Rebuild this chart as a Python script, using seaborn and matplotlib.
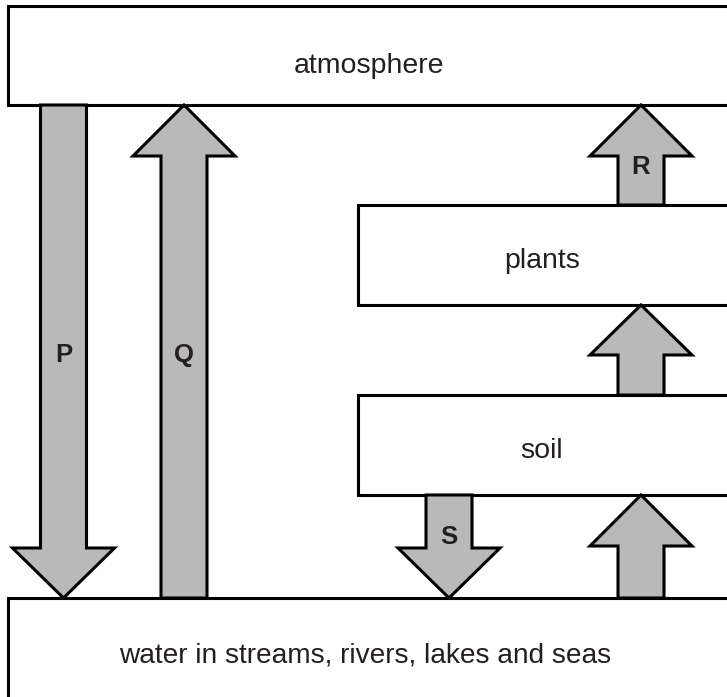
import matplotlib
matplotlib.use("Agg")
import matplotlib.pyplot as plt
from matplotlib.patches import Polygon, Rectangle
import seaborn as sns

sns.set_theme(style="white")
plt.rcParams['font.family'] = ['Liberation Sans', 'DejaVu Sans']

# Diagram content
box_names = ["atmosphere", "plants", "soil", "water in streams, rivers, lakes and seas"]
arrow_labels = ["P", "Q", "R", "", "S", ""]

W, H = 727, 697
fig = plt.figure(figsize=(W / 100, H / 100), dpi=100)
ax = fig.add_axes([0, 0, 1, 1])
ax.set_xlim(0, W)
ax.set_ylim(H, 0)
ax.axis("off")

LW = 2.2
FILL = "#b9b9b9"
TXT = "#231f20"

# boxes: (x0, y0, x1, y1)
boxes = [(8, 6, 760, 105), (358, 205, 760, 305), (358, 395, 760, 495), (8, 598, 760, 760)]
text_x = [369, 542, 542, 365]
text_base = [73, 268, 458, 662]
text_size = [20.5, 20.5, 20.5, 20.2]
for (x0, y0, x1, y1), name, tx, tb, fs in zip(boxes, box_names, text_x, text_base, text_size):
    ax.add_patch(Rectangle((x0, y0), x1 - x0, y1 - y0, facecolor="white",
                           edgecolor="black", linewidth=LW, zorder=2))
    ax.text(tx, tb, name, ha="center", va="baseline", fontsize=fs,
            color=TXT, zorder=5)


def arrow(cx, half_shaft, half_head, y_start, y_head, y_tip):
    pts = [(cx - half_shaft, y_start), (cx - half_shaft, y_head), (cx - half_head, y_head),
           (cx, y_tip), (cx + half_head, y_head), (cx + half_shaft, y_head),
           (cx + half_shaft, y_start)]
    ax.add_patch(Polygon(pts, closed=True, facecolor=FILL, edgecolor="black",
                         linewidth=LW, joinstyle="miter", zorder=3))

# (centre x, shaft start y, head base y, tip y)
arrows = [
    (63.5, 105, 548, 598),   # P down
    (184, 598, 156, 105),    # Q up
    (641, 205, 156, 105),    # R up
    (641, 395, 355, 305),    # soil -> plants
    (449, 495, 548, 598),    # S down
    (641, 598, 546, 495),    # water -> soil
]
label_y = [355, 355, 167, None, 537, None]
for (cx, ys, yh, yt), lab, ly in zip(arrows, arrow_labels, label_y):
    arrow(cx, 23, 51, ys, yh, yt)
    if lab:
        ax.text(cx, ly, lab, ha="center", va="center", fontsize=18.5,
                fontweight="bold", color=TXT, zorder=6)

fig.savefig("out.png", dpi=100)
